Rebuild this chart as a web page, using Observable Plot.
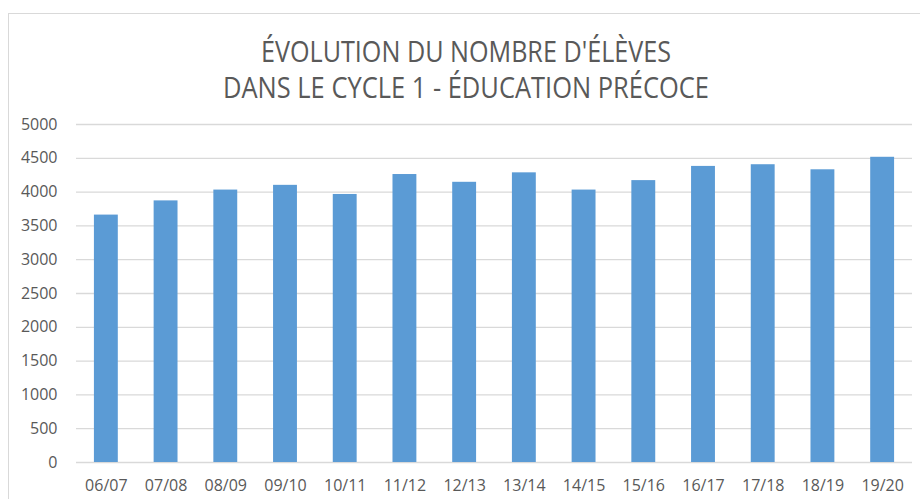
<!DOCTYPE html>
<html>
<head>
<meta charset="utf-8">
<script src="https://cdn.jsdelivr.net/npm/d3@7"></script>
<script src="https://cdn.jsdelivr.net/npm/@observablehq/plot@0.6"></script>
<style>
  html, body { margin: 0; padding: 0; background: #fff; }
  #wrap { position: relative; width: 920px; height: 499px; overflow: hidden; }
  #border { position: absolute; left: 8px; top: 13px; width: 1000px; height: 600px; border: 1px solid #d9d9d9; box-sizing: border-box; }
  #title { position: absolute; left: 0; top: 0; }
  #chart { position: absolute; left: 0; top: 0; }
</style>
</head>
<body>
<div id="wrap">
  <div id="border"></div>
  <div id="chart"></div>
  <svg id="title" width="920" height="110"></svg>
</div>
<script>
const titleLines = ["ÉVOLUTION DU NOMBRE D'ÉLÈVES", "DANS LE CYCLE 1 - ÉDUCATION PRÉCOCE"];
const years = ["06/07","07/08","08/09","09/10","10/11","11/12","12/13","13/14","14/15","15/16","16/17","17/18","18/19","19/20"];
const students = [3660, 3870, 4030, 4100, 3965, 4260, 4145, 4285, 4030, 4170, 4380, 4405, 4330, 4515];
const yTicks = [0, 500, 1000, 1500, 2000, 2500, 3000, 3500, 4000, 4500, 5000];

const data = years.map((y, i) => ({year: y, value: students[i]}));

const chart = Plot.plot({
  width: 920,
  height: 499,
  marginLeft: 76,
  marginRight: 8,
  marginTop: 124,
  marginBottom: 37,
  style: {fontFamily: "'Open Sans', sans-serif", fontSize: "16px", color: "#595959", background: "transparent"},
  x: {domain: years, paddingInner: 0.6, paddingOuter: 0.3, round: false, label: null, tickSize: 0, tickPadding: 17},
  y: {domain: [0, 5000], ticks: yTicks, label: null, tickSize: 0, tickPadding: 19, tickFormat: d => String(d)},
  marks: [
    Plot.ruleY(yTicks, {stroke: "#d9d9d9", strokeWidth: 1.3}),
    Plot.barY(data, {x: "year", y: "value", fill: "#5b9bd5"})
  ]
});
document.getElementById("chart").appendChild(chart);

const tsvg = d3.select("#title");
const lineSpecs = [{y: 61.5, len: 410}, {y: 98, len: 486}];
titleLines.forEach((t, i) => {
  tsvg.append("text")
    .attr("x", 466)
    .attr("y", lineSpecs[i].y)
    .attr("text-anchor", "middle")
    .attr("font-family", "'Open Sans', sans-serif")
    .attr("font-size", 29)
    .attr("fill", "#595959")
    .attr("textLength", lineSpecs[i].len)
    .attr("lengthAdjust", "spacingAndGlyphs")
    .text(t);
});
</script>
</body>
</html>
